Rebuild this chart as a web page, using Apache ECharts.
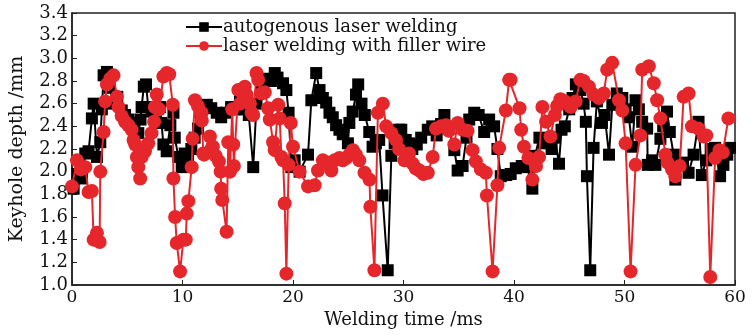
<!DOCTYPE html>
<html><head><meta charset="utf-8">
<script src="https://cdn.jsdelivr.net/npm/echarts@6/dist/echarts.min.js"></script>
<style>html,body{margin:0;padding:0;background:#fff}#c{width:752px;height:336px}</style>
</head><body><div id="c"></div>
<script>
var seriesNames = ['autogenous laser welding', 'laser welding with filler wire'];
var xTicks = [0, 10, 20, 30, 40, 50, 60];
var yTicks = [1.0, 1.2, 1.4, 1.6, 1.8, 2.0, 2.2, 2.4, 2.6, 2.8, 3.0, 3.2, 3.4];

var autoTime = [0.15,0.5,0.9,1.2,1.5,1.8,1.96,2.26,2.56,2.7,2.86,3.16,3.4,3.76,4.1,4.5,4.8,5.1,5.4,5.6,6.0,6.2,6.3,6.5,6.7,6.9,7.2,7.6,7.97,8.1,8.27,8.57,8.9,9.18,9.3,9.63,9.93,10.2,10.5,10.8,11.1,11.4,11.7,12.2,12.6,13.1,13.5,14.0,14.4,14.8,15.2,15.6,16.0,16.4,16.7,17.15,17.6,18.0,18.35,18.6,19.1,19.4,19.6,19.85,20.15,20.6,21.36,21.66,22.1,22.4,22.7,23.0,23.3,23.6,23.9,24.2,24.5,24.97,25.1,25.4,25.7,25.9,26.2,26.5,26.9,27.2,27.5,27.8,28.1,28.57,28.9,29.2,29.6,29.8,30.2,30.5,30.8,31.2,31.6,32.2,32.6,33.0,33.4,33.7,34.1,34.6,34.9,35.35,35.7,35.95,36.4,36.8,37.3,37.75,38.2,38.5,38.8,39.3,39.7,40.16,40.7,41.2,41.66,41.9,42.3,42.7,43.0,43.4,43.7,44.07,44.3,44.6,45.0,45.3,45.6,46.0,46.3,46.5,46.6,46.9,47.2,47.5,47.96,48.2,48.6,48.9,49.3,49.8,50.1,50.4,50.7,51.0,51.3,51.6,52.05,52.1,52.5,52.8,53.25,53.5,53.85,54.1,54.45,54.6,55.0,55.3,55.8,56.25,56.7,57.0,57.4,57.8,58.2,58.65,58.95,59.3,59.55];
var autoDepth = [1.85,1.98,1.94,2.16,2.18,2.47,2.60,2.13,2.26,2.55,2.85,2.88,2.74,2.60,2.66,2.54,2.50,2.46,2.40,2.43,2.34,2.46,2.57,2.75,2.77,2.57,2.53,2.50,2.57,2.43,2.24,2.18,2.41,2.52,2.30,2.13,2.04,2.16,2.10,2.20,2.30,2.38,2.50,2.59,2.56,2.52,2.48,2.52,2.57,2.55,2.62,2.55,2.50,2.04,2.60,2.78,2.82,2.80,2.87,2.83,2.78,2.72,2.52,2.04,2.10,2.00,2.15,2.63,2.87,2.72,2.65,2.61,2.52,2.48,2.41,2.37,2.33,2.25,2.43,2.53,2.68,2.77,2.60,2.50,2.35,2.22,2.25,2.28,1.79,1.13,2.14,2.25,2.37,2.37,2.28,2.25,2.20,2.24,2.30,2.37,2.40,2.32,2.42,2.50,2.38,2.19,2.01,2.05,2.30,2.46,2.52,2.50,2.35,2.46,2.40,2.20,1.96,1.97,1.98,2.03,2.05,2.04,1.85,2.14,2.30,2.25,2.28,2.20,2.30,2.07,2.37,2.40,2.55,2.65,2.77,2.72,2.60,2.44,1.96,1.13,2.21,2.62,2.43,2.50,2.15,2.59,2.69,2.65,2.55,2.48,2.22,2.63,2.55,2.44,2.38,2.06,2.10,2.06,2.29,2.40,2.53,2.35,2.15,1.93,2.05,2.08,1.99,2.15,2.44,1.97,2.10,2.20,2.21,1.96,2.06,2.15,2.21];

var wireTime = [0,0.45,0.8,1.2,1.5,1.8,1.96,2.26,2.5,2.56,2.86,3.0,3.16,3.46,3.76,4.06,4.21,4.5,4.8,5.1,5.4,5.57,5.72,5.87,6.0,6.17,6.3,6.6,6.9,7.2,7.43,7.5,7.67,7.9,8.27,8.57,8.8,9.12,9.18,9.33,9.48,9.78,10.08,10.3,10.38,10.53,10.83,10.92,11.13,11.4,11.73,11.75,11.88,11.95,12.48,12.75,13.0,13.3,13.45,13.5,13.6,13.99,14.14,14.3,14.5,14.59,14.65,15.05,15.2,15.64,15.8,16.1,16.25,16.4,16.7,16.85,17.15,17.45,17.75,17.9,18.2,18.35,18.66,18.8,18.95,19.1,19.25,19.4,19.61,19.8,20.0,20.6,21.36,21.96,22.26,22.7,23.1,23.47,23.76,24.2,24.5,24.82,25.1,25.42,25.7,26.0,26.47,26.92,27.0,27.37,27.68,28.13,28.43,28.9,29.33,29.6,30.08,30.5,30.84,31.1,31.44,31.8,32.2,32.64,32.94,33.4,33.84,34.1,34.6,34.9,35.35,35.8,36.25,36.55,37.0,37.45,37.55,38.06,38.5,38.66,39.26,39.56,39.7,40.5,40.65,40.9,41.3,41.66,42.0,42.27,42.57,42.9,43.3,43.7,43.9,44.2,44.37,44.6,45.13,45.58,46.0,46.3,46.78,47.2,47.68,48.13,48.43,48.89,49.5,49.8,50.1,50.55,51.0,51.44,51.6,52.2,52.65,52.95,53.25,53.7,53.9,54.3,54.6,55.0,55.35,55.8,56.1,56.7,57.16,57.4,57.76,58.2,58.6,58.9,59.4];
var wireDepth = [1.87,2.10,2.02,2.04,1.82,1.83,1.40,1.46,1.38,2.00,2.35,2.62,2.77,2.82,2.85,2.66,2.57,2.49,2.44,2.41,2.37,2.28,2.24,2.13,2.04,1.94,2.13,2.18,2.25,2.34,2.44,2.57,2.68,2.55,2.84,2.87,2.86,2.59,1.94,1.60,1.37,1.12,1.40,1.40,1.63,1.74,2.04,2.29,2.63,2.58,2.52,2.45,2.16,2.15,2.31,2.22,2.14,2.09,2.00,1.85,1.75,1.47,2.26,2.00,2.55,2.24,2.05,2.72,2.60,2.75,2.68,2.60,2.52,2.50,2.87,2.81,2.69,2.70,2.56,2.46,2.26,2.19,2.59,2.47,2.13,2.10,1.72,1.10,2.06,2.43,2.22,2.00,1.87,1.88,2.01,2.10,2.08,2.01,2.10,2.12,2.10,2.12,2.15,2.19,2.15,2.10,1.99,1.93,1.69,1.13,2.52,2.60,2.40,2.34,2.28,2.20,2.10,2.16,2.07,2.03,2.01,1.98,1.99,2.13,2.38,2.40,2.41,2.36,2.24,2.43,2.37,2.36,2.19,2.09,2.02,1.99,1.79,1.12,1.88,2.21,2.54,2.81,2.81,2.56,2.37,2.22,2.12,1.93,2.05,2.13,2.57,2.44,2.31,2.50,2.58,2.64,2.63,2.62,2.57,2.62,2.81,2.80,2.75,2.68,2.65,2.69,2.90,2.96,2.63,2.54,2.25,1.12,2.06,2.32,2.90,2.93,2.78,2.63,2.47,2.15,2.08,2.02,1.96,2.05,2.66,2.69,2.40,2.38,2.31,2.32,1.07,2.12,2.19,2.17,2.47];

function pairs(xs, ys){ return xs.map(function(x,i){ return [x, ys[i]]; }); }

var FONT = 'DejaVu Serif';
var chart = echarts.init(document.getElementById('c'), null, {renderer:'canvas'});
chart.setOption({
  animation: false,
  backgroundColor: '#fff',
  grid: {left: 70, right: 17, top: 13, bottom: 51, show: true, borderColor: '#222', borderWidth: 1.5, backgroundColor: 'transparent'},
  legend: {
    orient: 'vertical', left: 180, top: 13, itemGap: 1, itemWidth: 36, itemHeight: 12,
    textStyle: {fontFamily: FONT, fontSize: 18, color: '#111', padding: [0,0,0,-4]},
    data: seriesNames
  },
  xAxis: {
    type: 'value', min: xTicks[0], max: xTicks[xTicks.length-1], interval: 10,
    name: 'Welding time /ms', nameLocation: 'middle', nameGap: 25,
    nameTextStyle: {fontFamily: FONT, fontSize: 18, color: '#111'},
    axisLine: {lineStyle: {color: '#222', width: 1.5}},
    axisTick: {inside: true, length: 5, lineStyle: {color: '#222'}},
    axisLabel: {fontFamily: FONT, fontSize: 17, color: '#111', margin: 4},
    splitLine: {show: false}
  },
  yAxis: {
    type: 'value', min: yTicks[0], max: yTicks[yTicks.length-1], interval: 0.2,
    name: 'Keyhole depth /mm', nameLocation: 'middle', nameGap: 45,
    nameTextStyle: {fontFamily: FONT, fontSize: 19, color: '#111'},
    axisLine: {show: true, lineStyle: {color: '#222', width: 1.5}},
    axisTick: {show: true, inside: true, length: 5, lineStyle: {color: '#222'}},
    axisLabel: {fontFamily: FONT, fontSize: 18, color: '#111', margin: 4, formatter: function(v){ return v.toFixed(1); }},
    splitLine: {show: false}
  },
  series: [
    {name: seriesNames[0], type: 'line', data: pairs(autoTime, autoDepth),
     symbol: 'rect', symbolSize: 12, showAllSymbol: true,
     itemStyle: {color: '#000'}, lineStyle: {color: '#000', width: 2}, z: 2},
    {name: seriesNames[1], type: 'line', data: pairs(wireTime, wireDepth),
     symbol: 'circle', symbolSize: 14, showAllSymbol: true,
     itemStyle: {color: '#e5262b'}, lineStyle: {color: '#e5262b', width: 2}, z: 3}
  ]
});
</script></body></html>
